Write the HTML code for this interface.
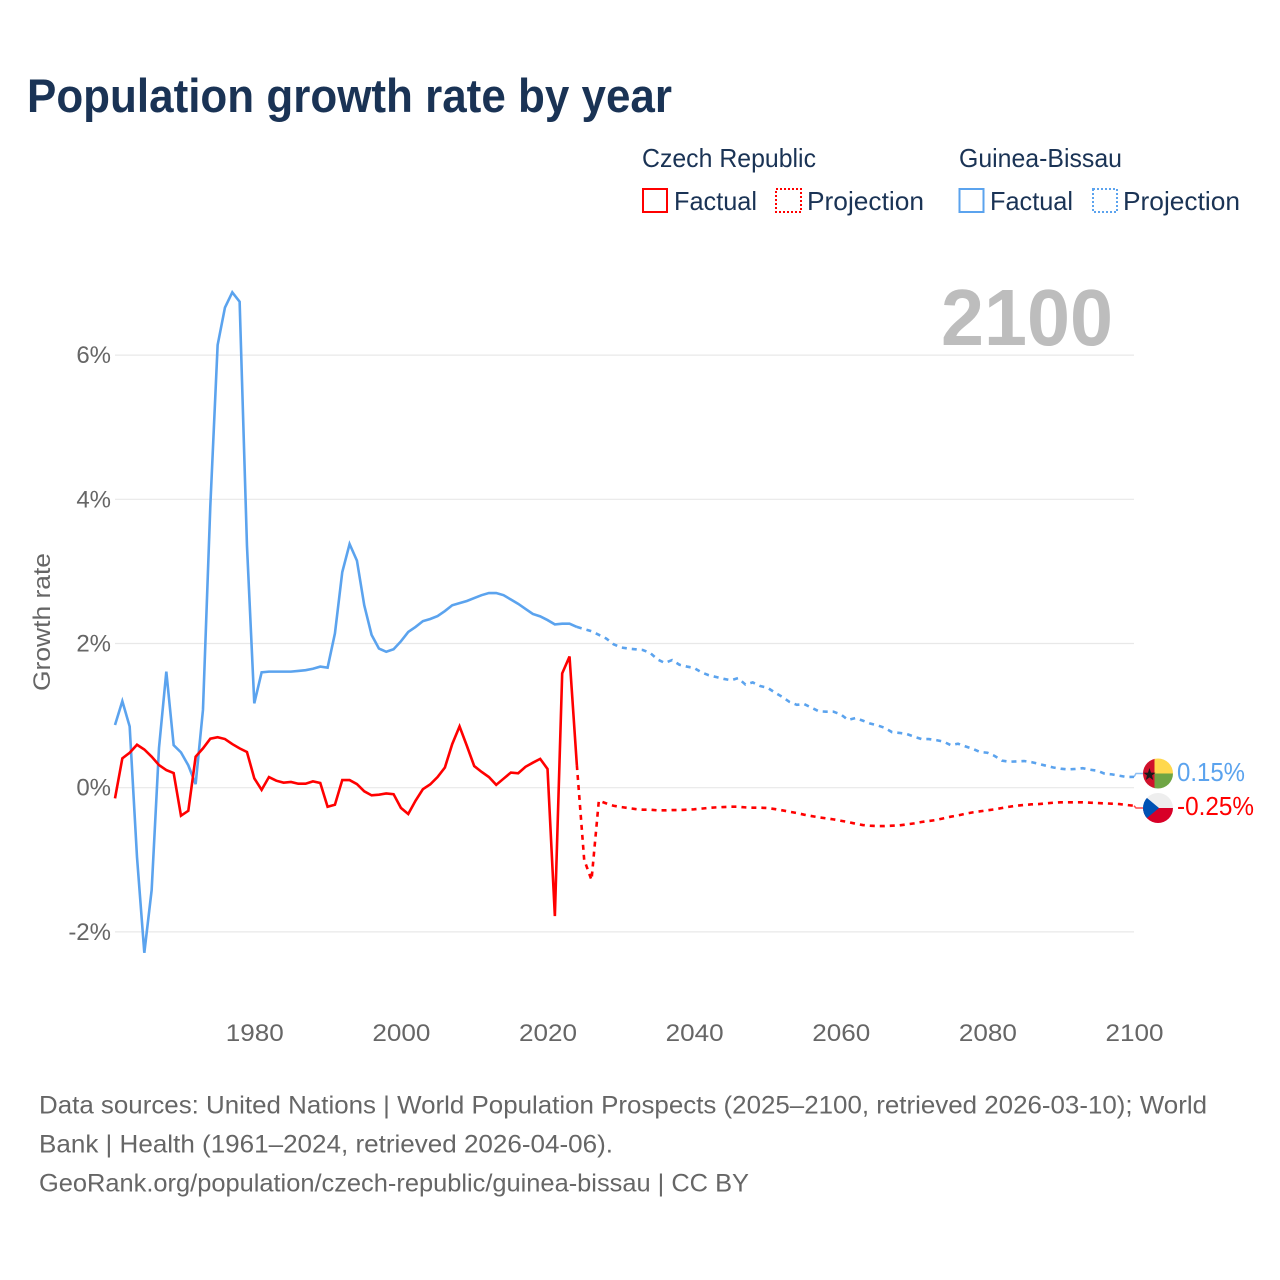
<!DOCTYPE html>
<html lang="en">
<head>
<meta charset="utf-8">
<title>Population growth rate by year</title>
<style>
html,body{margin:0;padding:0;background:#fff;}
svg{display:block;font-family:"Liberation Sans",sans-serif;}
</style>
</head>
<body>
<svg id="chart" xmlns="http://www.w3.org/2000/svg" width="1280" height="1280" viewBox="0 0 1280 1280">
  <rect x="0" y="0" width="1280" height="1280" fill="#ffffff"/>
  <text x="27" y="112" font-size="47" font-weight="700" fill="#1a3355" textLength="645" lengthAdjust="spacingAndGlyphs">Population growth rate by year</text>

  <g font-size="26" fill="#1a3355">
    <text x="642" y="167" textLength="174" lengthAdjust="spacingAndGlyphs">Czech Republic</text>
    <text x="959" y="167" textLength="163" lengthAdjust="spacingAndGlyphs">Guinea-Bissau</text>
    <rect x="643" y="189" width="24" height="23" fill="none" stroke="#ff0000" stroke-width="2"/>
    <text x="674" y="210" textLength="83" lengthAdjust="spacingAndGlyphs">Factual</text>
    <rect x="776" y="189" width="25" height="23" fill="none" stroke="#ff0000" stroke-width="2" stroke-dasharray="2 2"/>
    <text x="807" y="210" textLength="117" lengthAdjust="spacingAndGlyphs">Projection</text>
    <rect x="959.500" y="189" width="24" height="23" fill="none" stroke="#5ba3ee" stroke-width="2"/>
    <text x="990" y="210" textLength="83" lengthAdjust="spacingAndGlyphs">Factual</text>
    <rect x="1093" y="189" width="24" height="23" fill="none" stroke="#5ba3ee" stroke-width="2" stroke-dasharray="2 2"/>
    <text x="1123" y="210" textLength="117" lengthAdjust="spacingAndGlyphs">Projection</text>
  </g>

  <g id="grid"></g>
  <text x="941" y="345" font-size="80" font-weight="700" fill="#bdbdbd" textLength="172" lengthAdjust="spacingAndGlyphs">2100</text>
  <g id="y-ticks" font-size="24" fill="#666666" text-anchor="end"></g>
  <g id="x-ticks" font-size="24" fill="#666666"></g>
  <text transform="translate(50,622) rotate(-90)" font-size="24" fill="#666666" text-anchor="middle" textLength="138" lengthAdjust="spacingAndGlyphs">Growth rate</text>

  <g id="series"></g>

  <defs>
    <clipPath id="clip-gw"><circle cx="1158" cy="773.500" r="15"/></clipPath>
    <clipPath id="clip-cz"><circle cx="1158" cy="808" r="15"/></clipPath>
  </defs>
  <g clip-path="url(#clip-gw)">
    <rect x="1143" y="758" width="12" height="31" fill="#d0112b"/>
    <rect x="1154.500" y="758" width="19" height="15.500" fill="#ffd84d"/>
    <rect x="1154.500" y="773.500" width="19" height="16" fill="#6fa544"/>
    <polygon points="1149.500,768 1151,772.600 1155.500,772.800 1152,775.500 1153.200,780 1149.500,777.400 1145.800,780 1147,775.500 1143.500,772.800 1148,772.600" fill="#1a1a1a"/>
  </g>
  <g clip-path="url(#clip-cz)">
    <rect x="1143" y="793" width="30" height="15" fill="#eeeeee"/>
    <rect x="1143" y="808" width="30" height="15" fill="#d80027"/>
    <polygon points="1141,793 1159,808 1141,823" fill="#0052b4"/>
  </g>
  <text x="1177" y="781" font-size="26" fill="#5ba3ee" textLength="68" lengthAdjust="spacingAndGlyphs">0.15%</text>
  <text x="1177" y="815" font-size="26" fill="#ff0000" textLength="77" lengthAdjust="spacingAndGlyphs">-0.25%</text>

  <g font-size="25" fill="#666666">
    <text x="39" y="1113.500" textLength="1168" lengthAdjust="spacingAndGlyphs">Data sources: United Nations | World Population Prospects (2025–2100, retrieved 2026-03-10); World</text>
    <text x="39" y="1152.500" textLength="574" lengthAdjust="spacingAndGlyphs">Bank | Health (1961–2024, retrieved 2026-04-06).</text>
    <text x="39" y="1191.500" textLength="710" lengthAdjust="spacingAndGlyphs">GeoRank.org/population/czech-republic/guinea-bissau | CC BY</text>
  </g>
</svg>
<script>
var factualStartYear = 1961;
var projectionStartYear = 2024;
var yTickValues = [6, 4, 2, 0, -2];
var yTickLabels = ["6%", "4%", "2%", "0%", "-2%"];
var xTickValues = [1980, 2000, 2020, 2040, 2060, 2080, 2100];
var xTickLabels = ["1980", "2000", "2020", "2040", "2060", "2080", "2100"];

var guineaFactual = [
  0.87,1.20,0.85,-0.96,-2.29,-1.42,0.55,1.61,0.59,0.49,
  0.31,0.05,1.08,3.9,6.14,6.66,6.87,6.74,3.36,1.17,
  1.60,1.61,1.61,1.61,1.61,1.62,1.63,1.65,1.68,1.665,
  2.14,2.99,3.38,3.15,2.53,2.12,1.93,1.885,1.92,2.03,
  2.16,2.23,2.31,2.34,2.38,2.45,2.53,2.56,2.59,2.63,
  2.67,2.70,2.70,2.67,2.61,2.55,2.48,2.41,2.376,2.325,
  2.265,2.275,2.275,2.23
];
var guineaProjection = [
  2.23,2.20,2.17,2.12,2.07,1.99,
  1.945,1.93,1.92,1.91,1.87,1.78,1.73,1.77,1.705,1.68,
  1.66,1.60,1.56,1.535,1.51,1.49,1.52,1.43,1.46,1.41,
  1.387,1.32,1.26,1.19,1.15,1.16,1.11,1.06,1.054,1.054,
  1.017,0.94,0.966,0.93,0.89,0.865,0.83,0.77,0.76,0.745,
  0.707,0.675,0.675,0.66,0.64,0.59,0.61,0.573,0.54,0.495,
  0.485,0.44,0.375,0.36,0.365,0.37,0.355,0.33,0.305,0.28,
  0.264,0.254,0.26,0.27,0.25,0.236,0.194,0.185,0.166,0.148,
  0.15
];
var czechFactual = [
  -0.148,0.407,0.485,0.596,0.53,0.43,0.314,0.245,0.203,-0.388,
  -0.32,0.43,0.545,0.68,0.70,0.675,0.605,0.545,0.495,0.13,
  -0.03,0.148,0.097,0.07,0.08,0.055,0.055,0.088,0.065,-0.264,
  -0.236,0.106,0.106,0.05,-0.05,-0.106,-0.097,-0.08,-0.09,-0.28,
  -0.365,-0.18,-0.02,0.046,0.148,0.28,0.605,0.85,0.58,0.30,
  0.22,0.148,0.04,0.125,0.21,0.20,0.29,0.347,0.40,0.26,
  -1.78,1.585,1.82,0.314
];
var czechProjection = [
  0.314,-1.0,-1.28,-0.18,-0.217,-0.25,
  -0.268,-0.282,-0.296,-0.305,-0.305,-0.314,-0.314,-0.31,-0.31,-0.305,
  -0.30,-0.29,-0.28,-0.273,-0.268,-0.264,-0.264,-0.273,-0.277,-0.277,
  -0.282,-0.296,-0.314,-0.333,-0.351,-0.374,-0.393,-0.411,-0.425,-0.439,
  -0.458,-0.476,-0.499,-0.518,-0.527,-0.532,-0.532,-0.527,-0.522,-0.509,
  -0.495,-0.476,-0.462,-0.448,-0.425,-0.402,-0.384,-0.361,-0.342,-0.328,
  -0.314,-0.30,-0.282,-0.264,-0.25,-0.24,-0.231,-0.227,-0.217,-0.208,
  -0.203,-0.203,-0.203,-0.203,-0.208,-0.213,-0.217,-0.222,-0.227,-0.24,
  -0.25
];

var SVG_NS = "http://www.w3.org/2000/svg";
var RED = "#ff0000";
var BLUE = "#5ba3ee";
var GUINEA_FLAG_Y = 773.5;
var CZECH_FLAG_Y = 808;

function xScale(year) { return 115 + (year - 1961) * (1019 / 139); }
function yScale(v) { return 787.7 - v * 72.1; }

function linePath(values, startYear) {
  var d = "";
  for (var i = 0; i < values.length; i++) {
    d += (i ? "L" : "M") + xScale(startYear + i).toFixed(2) + " " + yScale(values[i]).toFixed(2);
  }
  return d;
}

var gridGroup = document.getElementById("grid");
var yTickGroup = document.getElementById("y-ticks");
yTickValues.forEach(function (v, i) {
  var line = document.createElementNS(SVG_NS, "line");
  
  
  line.setAttribute("x1", xScale(1961));
  line.setAttribute("x2", xScale(2100));
  line.setAttribute("y1", yScale(v));
  line.setAttribute("y2", yScale(v));
  line.setAttribute("stroke", "#e8e8e8");
  line.setAttribute("stroke-width", "1.2");
  gridGroup.appendChild(line);

  var label = document.createElementNS(SVG_NS, "text");
  
  
  label.setAttribute("x", 111);
  label.setAttribute("y", yScale(v) + 8);
  label.textContent = yTickLabels[i];
  yTickGroup.appendChild(label);
});

var xTickGroup = document.getElementById("x-ticks");
xTickValues.forEach(function (year, i) {
  var label = document.createElementNS(SVG_NS, "text");
  
  
  label.setAttribute("x", xScale(year) - 28.5);
  label.setAttribute("y", 1041);
  label.setAttribute("textLength", "58");
  label.setAttribute("lengthAdjust", "spacingAndGlyphs");
  label.textContent = xTickLabels[i];
  xTickGroup.appendChild(label);
});

var seriesGroup = document.getElementById("series");

function addPath(d, color, dashed) {
  var p = document.createElementNS(SVG_NS, "path");
  p.setAttribute("d", d);
  p.setAttribute("fill", "none");
  p.setAttribute("stroke", color);
  p.setAttribute("stroke-width", "2.6");
  if (dashed) { p.setAttribute("stroke-dasharray", "5 5"); }
  seriesGroup.appendChild(p);
  return p;
}

function addConnector(values, flagY, color) {
  var ex = xScale(2100);
  var ey = yScale(values[values.length - 1]);
  var d = "M" + ex.toFixed(2) + " " + ey.toFixed(2) + "L" + (ex + 2).toFixed(2) + " " + flagY + "L1143 " + flagY;
  var p = addPath(d, color, false);
  p.setAttribute("stroke-opacity", "0.7");
  p.setAttribute("stroke-width", "1.5");
  return p;
}

var guineaFactualLine = addPath(linePath(guineaFactual, factualStartYear), BLUE, false);



var guineaProjectionLine = addPath(linePath(guineaProjection, projectionStartYear), BLUE, true);



var czechFactualLine = addPath(linePath(czechFactual, factualStartYear), RED, false);



var czechProjectionLine = addPath(linePath(czechProjection, projectionStartYear), RED, true);



var guineaConnector = addConnector(guineaProjection, GUINEA_FLAG_Y, BLUE);



var czechConnector = addConnector(czechProjection, CZECH_FLAG_Y, RED);


</script>
</body>
</html>
